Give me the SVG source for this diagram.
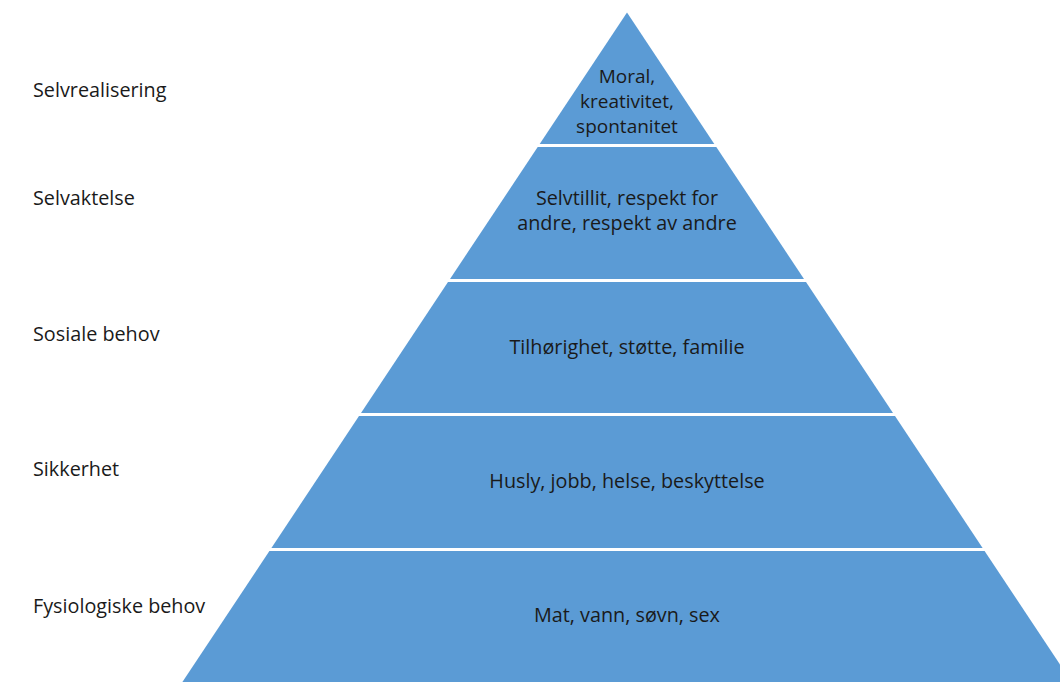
<svg xmlns="http://www.w3.org/2000/svg" width="1060" height="682" viewBox="0 0 1060 682">
<style>
.layer{fill:#5B9BD5;}
.t{font-family:"Open Sans","Liberation Sans",Arial,sans-serif;font-size:19.8px;fill:#1a1a1a;}
.c{text-anchor:middle;}
.s{font-size:19px;}
</style>
<rect width="1060" height="682" fill="#ffffff"/>
<g id="labels">
<text class="t" x="33" y="97">Selvrealisering</text>
<text class="t" x="33" y="205">Selvaktelse</text>
<text class="t" x="33" y="341">Sosiale behov</text>
<text class="t" x="33" y="476">Sikkerhet</text>
<text class="t" x="33" y="613">Fysiologiske behov</text>
</g>
<g id="layer1">
<polygon class="layer" points="627,12.5 714.3,144 539.7,144"/>
<text class="t c s" x="627" y="83"><tspan x="627">Moral,</tspan><tspan x="627" dy="25">kreativitet,</tspan><tspan x="627" dy="25">spontanitet</tspan></text>
</g>
<g id="layer2">
<polygon class="layer" points="537.7,147 716.3,147 804,279 450,279"/>
<text class="t c" x="627" y="205"><tspan x="627">Selvtillit, respekt for</tspan><tspan x="627" dy="25">andre, respekt av andre</tspan></text>
</g>
<g id="layer3">
<polygon class="layer" points="448,282 806,282 893,413 361,413"/>
<text class="t c" x="627" y="354">Tilhørighet, støtte, familie</text>
</g>
<g id="layer4">
<polygon class="layer" points="359,416 895,416 982.6,548 271.4,548"/>
<text class="t c" x="627" y="488">Husly, jobb, helse, beskyttelse</text>
</g>
<g id="layer5">
<polygon class="layer" points="269.4,551 984.6,551 1071.6,682 182.4,682"/>
<text class="t c" x="627" y="622">Mat, vann, søvn, sex</text>
</g>
</svg>
